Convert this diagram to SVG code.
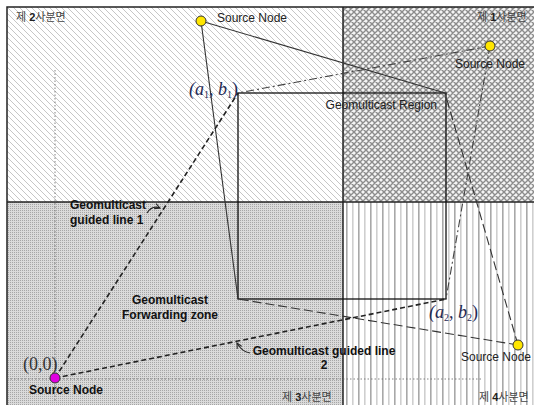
<svg xmlns="http://www.w3.org/2000/svg" width="534" height="405" viewBox="0 0 534 405">
  <style>
    .lbl { font-family: "Liberation Sans", Arial, sans-serif; font-size: 12px; fill: #222; }
    .bold { font-weight: bold; fill: #111; }
    .quad { font-family: "Liberation Sans", "Noto Sans CJK KR", sans-serif; font-size: 11px; fill: #444; }
    .math { font-family: "Liberation Serif", "Times New Roman", serif; font-size: 18px; }
    .coord { fill: #1f2a55; font-style: italic; }
    .frame { fill: none; stroke: #222; stroke-width: 1.5; }
    .region { fill: none; stroke: #111; stroke-width: 1.3; }
    .guide { stroke: #666; stroke-width: 0.8; stroke-dasharray: 1.5 2; fill: none; }
    .node { stroke: #333; stroke-width: 1; }
    .solid { stroke: #333; stroke-width: 1.1; fill: none; }
    .dashdot { stroke: #444; stroke-width: 1.1; stroke-dasharray: 8 3 2 3; fill: none; }
    .longdash { stroke: #333; stroke-width: 1.1; stroke-dasharray: 9 4; fill: none; }
    .shortdash { stroke: #222; stroke-width: 1.6; stroke-dasharray: 5 3; fill: none; }
    .callout { stroke: #222; stroke-width: 1.1; fill: none; }
  </style>
  <defs>
    <pattern id="diag" patternUnits="userSpaceOnUse" width="6" height="6">
      <rect width="6" height="6" fill="#fff"/>
      <path d="M0,0 L6,6 M-1,5 L1,7 M5,-1 L7,1" stroke="#c6c6c6" stroke-width="1"/>
    </pattern>
    <pattern id="cross" patternUnits="userSpaceOnUse" width="6" height="6">
      <rect width="6" height="6" fill="#f4f4f4"/>
      <path d="M0,0 L6,6 M-1,5 L1,7 M5,-1 L7,1 M0,6 L6,0 M-1,1 L1,-1 M5,7 L7,5" stroke="#8c8c8c" stroke-width="1.4"/>
    </pattern>
    <pattern id="dots" patternUnits="userSpaceOnUse" width="2" height="2">
      <rect width="2" height="2" fill="#dadada"/>
      <rect width="1" height="1" fill="#a6a6a6"/>
    </pattern>
    <pattern id="vlines" patternUnits="userSpaceOnUse" x="346" y="0" width="12" height="12">
      <rect width="12" height="12" fill="#fff"/>
      <rect x="0" width="1.6" height="12" fill="#a8a8a8"/>
      <rect x="6" width="1.6" height="12" fill="#cfcfcf"/>
    </pattern>
    <marker id="arr" viewBox="0 0 8 8" refX="7" refY="4" markerWidth="7" markerHeight="7" orient="auto" markerUnits="userSpaceOnUse">
      <path d="M1,1 L7,4 L1,7" fill="none" stroke="#222" stroke-width="1.2"/>
    </marker>
  </defs>

  <rect width="534" height="405" fill="#fff"/>

  <!-- quadrant fills -->
  <g id="quadrants">
    <rect x="7" y="7" width="336" height="195" fill="url(#diag)"/>
    <rect x="343" y="7" width="191" height="195" fill="url(#cross)"/>
    <rect x="7" y="202" width="336" height="203" fill="url(#dots)"/>
    <rect x="343" y="202" width="191" height="203" fill="url(#vlines)"/>
    <rect x="7" y="7" width="530" height="402" class="frame"/>
    <line x1="7" y1="202" x2="534" y2="202" stroke="#222" stroke-width="1.5"/>
    <line x1="343" y1="7" x2="343" y2="405" stroke="#222" stroke-width="1.5"/>
  </g>

  <!-- axis guides through the origin -->
  <g id="axes">
    <line x1="55" y1="70" x2="55" y2="402" class="guide"/>
    <line x1="7" y1="379" x2="481" y2="379" class="guide"/>
  </g>

  <!-- quadrant labels -->
  <g id="quadrant-labels" class="quad">
    <text x="16" y="21">제 <tspan font-weight="bold" fill="#222">2</tspan>사분면</text>
    <text x="477" y="21">제 <tspan font-weight="bold" fill="#222">1</tspan>사분면</text>
    <text x="282" y="401">제 <tspan font-weight="bold" fill="#222">3</tspan>사분면</text>
    <text x="479" y="401">제 <tspan font-weight="bold" fill="#222">4</tspan>사분면</text>
  </g>

  <!-- target region -->
  <g id="region">
    <rect x="238" y="93" width="208" height="206" class="region"/>
    <text x="437" y="109" class="lbl" text-anchor="end">Geomulticast Region</text>
  </g>

  <!-- connectors from each source node to the region corners -->
  <g id="connectors">
    <line x1="201" y1="21" x2="445" y2="93" class="solid"/>
    <line x1="201" y1="21" x2="238" y2="299" class="solid"/>
    <line x1="490" y1="46" x2="238" y2="93" class="dashdot"/>
    <line x1="490" y1="46" x2="446" y2="299" class="dashdot"/>
    <line x1="518" y1="345" x2="445" y2="93" class="longdash"/>
    <line x1="518" y1="345" x2="238" y2="299" class="longdash"/>
    <line x1="55" y1="378" x2="238" y2="93" class="shortdash"/>
    <line x1="55" y1="378" x2="446" y2="299" class="shortdash"/>
  </g>

  <!-- callout arrows -->
  <g id="callouts">
    <path d="M147,213 Q152,205 160,208" class="callout" marker-end="url(#arr)"/>
    <path d="M250,353 Q242,352 237,343" class="callout" marker-end="url(#arr)"/>
  </g>

  <g id="guided-line-1">
    <text x="70" y="209" class="lbl bold">Geomulticast</text>
    <text x="70" y="224" class="lbl bold">guided line 1</text>
  </g>

  <g id="forwarding-zone">
    <text x="170" y="304" class="lbl bold" text-anchor="middle">Geomulticast</text>
    <text x="170" y="319" class="lbl bold" text-anchor="middle">Forwarding zone</text>
  </g>

  <g id="guided-line-2">
    <text x="324" y="355" class="lbl bold" text-anchor="middle">Geomulticast guided line</text>
    <text x="324" y="369" class="lbl bold" text-anchor="middle">2</text>
  </g>

  <!-- corner coordinates -->
  <g id="corner-a1b1" class="math coord">
    <text x="189" y="95">(<tspan>a</tspan><tspan font-size="10" dy="3" font-style="normal">1</tspan><tspan dy="-3" font-style="normal">, </tspan>b<tspan font-size="10" dy="3" font-style="normal">1</tspan><tspan dy="-3" font-style="normal">)</tspan></text>
  </g>
  <g id="corner-a2b2" class="math coord">
    <text x="429" y="318">(<tspan>a</tspan><tspan font-size="10" dy="3" font-style="normal">2</tspan><tspan dy="-3" font-style="normal">, </tspan>b<tspan font-size="10" dy="3" font-style="normal">2</tspan><tspan dy="-3" font-style="normal">)</tspan></text>
  </g>

  <!-- source nodes -->
  <g id="source-top">
    <circle cx="201" cy="21" r="5" fill="#ffe600" class="node"/>
    <text x="217" y="22" class="lbl">Source Node</text>
  </g>
  <g id="source-q1">
    <circle cx="490" cy="46" r="5" fill="#ffe600" class="node"/>
    <text x="490" y="68" class="lbl" text-anchor="middle">Source Node</text>
  </g>
  <g id="source-q4">
    <circle cx="518" cy="345" r="5" fill="#ffe600" class="node"/>
    <text x="496" y="361" class="lbl" text-anchor="middle">Source Node</text>
  </g>
  <g id="source-origin">
    <circle cx="55" cy="378" r="5" fill="#e000e0" class="node"/>
    <text x="23" y="370" class="math" fill="#333">(0,0)</text>
    <text x="29" y="394" class="lbl bold">Source Node</text>
  </g>
</svg>
